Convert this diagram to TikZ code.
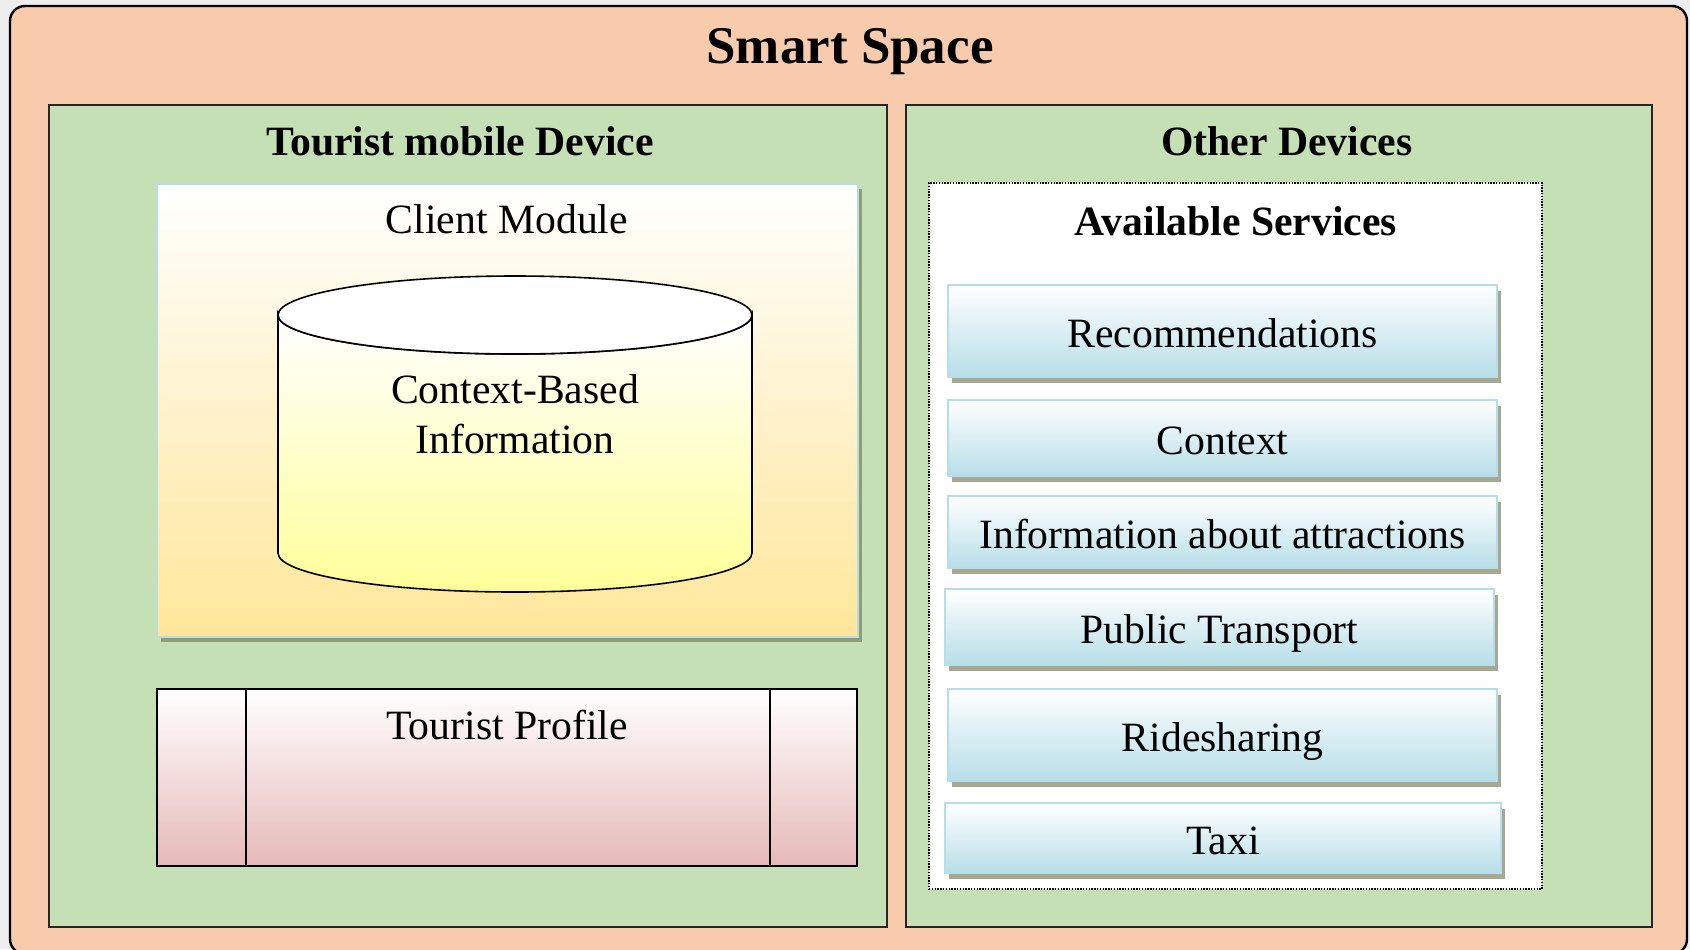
\documentclass[tikz,border=0pt]{standalone}
\usepackage{fontspec}
\setmainfont{Liberation Serif}
\usetikzlibrary{fit,shadows,calc}

\definecolor{pagebg}{HTML}{EEEEEE}
\definecolor{peach}{HTML}{F8CBAD}
\definecolor{panelgreen}{HTML}{C5E0B4}
\definecolor{lightblue}{HTML}{B7DEE8}
\definecolor{sand}{HTML}{FFE699}
\definecolor{paleyellow}{HTML}{FFFF99}
\definecolor{rose}{HTML}{E6B9B8}
\definecolor{shadowgrey}{HTML}{A5A893}
\definecolor{shadowgreen}{HTML}{8C9E72}

\begin{document}
\begin{tikzpicture}[x=0.5pt,y=-0.5pt,
  regular/.style={font=\fontsize{20.85}{25}\selectfont},
  heading/.style={font=\bfseries\fontsize{20.85}{25}\selectfont},
  bigheading/.style={font=\bfseries\fontsize{26.5}{31}\selectfont},
  box/.style={inner sep=0pt, outer sep=0pt},
  panel/.style={box, draw=black!85, line width=1pt, fill=panelgreen},
  service/.style={box, draw=lightblue, line width=1pt,
    top color=white, bottom color=lightblue,
    general shadow={fill=shadowgrey, shadow xshift=2pt, shadow yshift=-3pt}},
  servicelabel/.style={regular, anchor=base},
]
% page
\fill[pagebg] (0,0) rectangle (1690,949);
\useasboundingbox (0,0) rectangle (1690,949);

% smart space frame
\node[fit={(10,6)(1687,954)}, box, draw=black, line width=1.2pt,
      rounded corners=7.5pt, fill=peach] (space) {};
\node[bigheading, anchor=base] (spacetitle) at (850,63) {Smart Space};

% the two device panels
\node[fit={(49,105)(887,927)}, panel] (tourist) {};
\node[fit={(906,105)(1652,927)}, panel] (others) {};
\node[heading, anchor=base] (touristtitle) at (460,155) {Tourist mobile Device};
\node[heading, anchor=base] (otherstitle) at (1287,155) {Other Devices};

% client module
\node[fit={(157,184)(858,637)}, box, draw=lightblue, line width=1pt,
      top color=white, middle color=sand!30!white, bottom color=sand,
      general shadow={fill=shadowgreen, shadow xshift=2pt, shadow yshift=-2.5pt}] (client) {};
\node[regular, anchor=base] (clienttitle) at (507,233) {Client Module};

% context database
\draw[line width=0.8pt, top color=white, bottom color=paleyellow]
  (278,315) -- (278,553)
  arc[start angle=180, end angle=0, x radius=237, y radius=39]
  -- (752,315)
  arc[start angle=0, end angle=180, x radius=237, y radius=39] -- cycle;
\draw[line width=0.8pt, fill=white] (515,315) ellipse [x radius=237, y radius=39];
\node[regular, anchor=base, align=center] (dbtext) at (515,453)
  {Context-Based\\Information};

% tourist profile
\node[fit={(157,689)(857,866)}, box, draw=black, line width=0.9pt,
      top color=white, bottom color=rose] (profile) {};
\draw[line width=0.9pt] ($(profile.north west)+(89,0)$) -- ($(profile.south west)+(89,0)$);
\draw[line width=0.9pt] ($(profile.north east)+(-87,0)$) -- ($(profile.south east)+(-87,0)$);
\node[regular, anchor=base] (profiletitle) at (507,739) {Tourist Profile};

% available services
\node[fit={(929,183)(1542,889)}, box, draw=black, fill=white, line width=0.9pt,
      dash pattern=on 0.7pt off 0.7pt] (services) {};
\node[heading, anchor=base] (servicestitle) at (1236,235) {Available Services};

\node[fit={(948,285)(1497,377)}, service] (recommend) {};
\node[fit={(948,400)(1497,476)}, service] (context) {};
\node[fit={(948,496)(1497,568)}, service] (attractions) {};
\node[fit={(945,589)(1494,665)}, service] (transport) {};
\node[fit={(948,689)(1497,781)}, service] (rideshare) {};
\node[fit={(945,803)(1501,873)}, service] (taxi) {};

\node[servicelabel] (recommendtext) at ($(recommend.center)+(0,16)$) {Recommendations};
\node[servicelabel] (contexttext) at ($(context.center)+(0,16)$) {Context};
\node[servicelabel] (attractionstext) at ($(attractions.center)+(0,16)$) {Information about attractions};
\node[servicelabel] (transporttext) at ($(transport.center)+(0,16)$) {Public Transport};
\node[servicelabel] (ridesharetext) at ($(rideshare.center)+(0,16)$) {Ridesharing};
\node[servicelabel] (taxitext) at ($(taxi.center)+(0,16)$) {Taxi};
\end{tikzpicture}
\end{document}
